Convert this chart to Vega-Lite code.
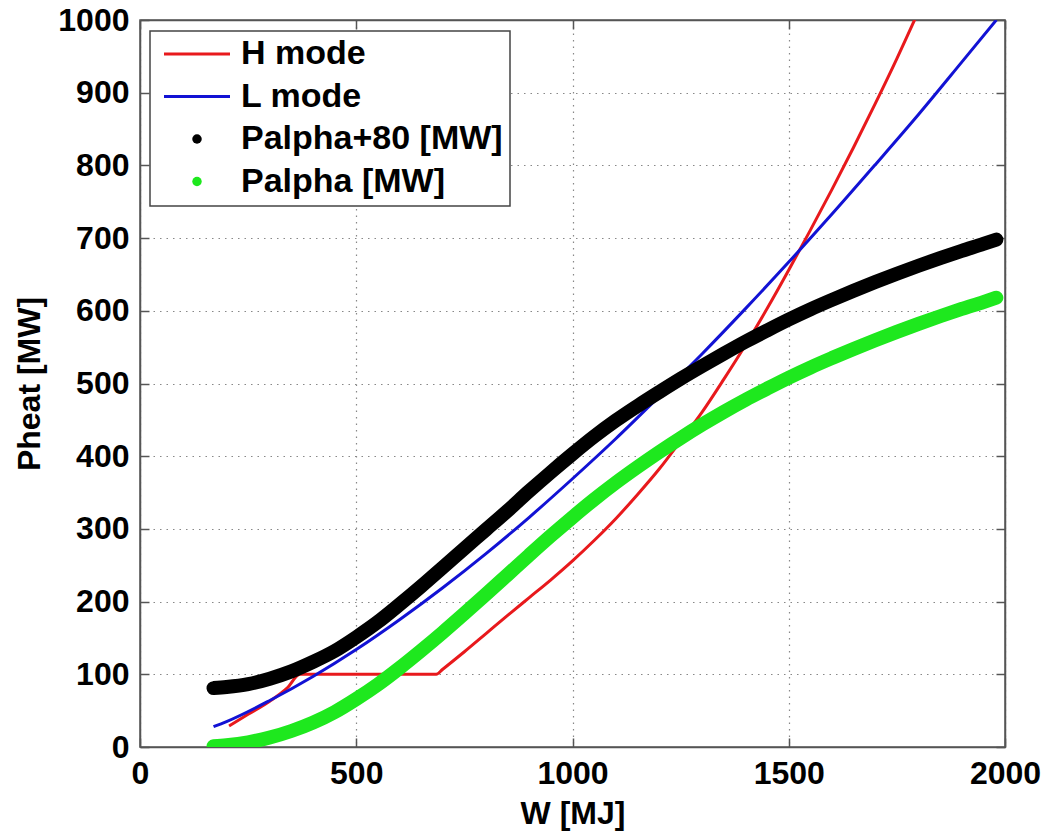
{
  "$schema": "https://vega.github.io/schema/vega-lite/v6.json",
  "width": 865,
  "height": 727,
  "autosize": {"type": "none"},
  "padding": {"left": 140, "top": 20, "right": 43, "bottom": 89},
  "background": "white",
  "config": {
    "view": {"stroke": "#555", "strokeWidth": 1.5},
    "font": "Liberation Sans",
    "axis": {
      "labelFont": "Liberation Sans",
      "labelFontSize": 32,
      "labelFontWeight": "bold",
      "labelColor": "black",
      "titleFont": "Liberation Sans",
      "titleFontSize": 32,
      "titleFontWeight": "bold",
      "titleColor": "black",
      "domainColor": "#555",
      "domainWidth": 1.5,
      "tickColor": "#555",
      "tickWidth": 1.5,
      "labelFlush": false,
      "labelOverlap": false,
      "labelBound": false,
      "format": "d"
    }
  },
  "datasets": {
    "lines": [
      {"W": 206, "P": 29, "series": "H mode"},
      {"W": 250, "P": 45, "series": "H mode"},
      {"W": 300, "P": 63, "series": "H mode"},
      {"W": 340, "P": 81, "series": "H mode"},
      {"W": 370, "P": 100, "series": "H mode"},
      {"W": 685, "P": 100, "series": "H mode"},
      {"W": 700, "P": 107, "series": "H mode"},
      {"W": 750, "P": 131, "series": "H mode"},
      {"W": 800, "P": 156, "series": "H mode"},
      {"W": 850, "P": 181, "series": "H mode"},
      {"W": 900, "P": 205.5, "series": "H mode"},
      {"W": 950, "P": 230, "series": "H mode"},
      {"W": 1000, "P": 256, "series": "H mode"},
      {"W": 1050, "P": 284, "series": "H mode"},
      {"W": 1100, "P": 314, "series": "H mode"},
      {"W": 1150, "P": 347, "series": "H mode"},
      {"W": 1200, "P": 382, "series": "H mode"},
      {"W": 1250, "P": 421, "series": "H mode"},
      {"W": 1300, "P": 461, "series": "H mode"},
      {"W": 1350, "P": 506, "series": "H mode"},
      {"W": 1400, "P": 553, "series": "H mode"},
      {"W": 1450, "P": 603, "series": "H mode"},
      {"W": 1500, "P": 656, "series": "H mode"},
      {"W": 1550, "P": 711, "series": "H mode"},
      {"W": 1600, "P": 767, "series": "H mode"},
      {"W": 1650, "P": 825, "series": "H mode"},
      {"W": 1700, "P": 885, "series": "H mode"},
      {"W": 1750, "P": 947, "series": "H mode"},
      {"W": 1800, "P": 1012, "series": "H mode"},
      {"W": 170, "P": 28, "series": "L mode"},
      {"W": 200, "P": 35, "series": "L mode"},
      {"W": 300, "P": 64, "series": "L mode"},
      {"W": 400, "P": 97, "series": "L mode"},
      {"W": 500, "P": 134, "series": "L mode"},
      {"W": 600, "P": 175, "series": "L mode"},
      {"W": 700, "P": 219, "series": "L mode"},
      {"W": 800, "P": 266, "series": "L mode"},
      {"W": 900, "P": 316, "series": "L mode"},
      {"W": 1000, "P": 369, "series": "L mode"},
      {"W": 1100, "P": 424, "series": "L mode"},
      {"W": 1200, "P": 482, "series": "L mode"},
      {"W": 1300, "P": 541, "series": "L mode"},
      {"W": 1400, "P": 603, "series": "L mode"},
      {"W": 1500, "P": 667, "series": "L mode"},
      {"W": 1600, "P": 733, "series": "L mode"},
      {"W": 1700, "P": 801, "series": "L mode"},
      {"W": 1800, "P": 870, "series": "L mode"},
      {"W": 1900, "P": 942, "series": "L mode"},
      {"W": 1980, "P": 1000, "series": "L mode"}
    ],
    "dots": [
      {"W": 170, "P": 81, "series": "Palpha+80 [MW]"},
      {"W": 200, "P": 82.5, "series": "Palpha+80 [MW]"},
      {"W": 250, "P": 86.5, "series": "Palpha+80 [MW]"},
      {"W": 300, "P": 94, "series": "Palpha+80 [MW]"},
      {"W": 350, "P": 104, "series": "Palpha+80 [MW]"},
      {"W": 400, "P": 117, "series": "Palpha+80 [MW]"},
      {"W": 450, "P": 132, "series": "Palpha+80 [MW]"},
      {"W": 500, "P": 151, "series": "Palpha+80 [MW]"},
      {"W": 550, "P": 172, "series": "Palpha+80 [MW]"},
      {"W": 600, "P": 196, "series": "Palpha+80 [MW]"},
      {"W": 650, "P": 221, "series": "Palpha+80 [MW]"},
      {"W": 700, "P": 247, "series": "Palpha+80 [MW]"},
      {"W": 750, "P": 273, "series": "Palpha+80 [MW]"},
      {"W": 800, "P": 299, "series": "Palpha+80 [MW]"},
      {"W": 850, "P": 325, "series": "Palpha+80 [MW]"},
      {"W": 900, "P": 352, "series": "Palpha+80 [MW]"},
      {"W": 950, "P": 378, "series": "Palpha+80 [MW]"},
      {"W": 1000, "P": 403, "series": "Palpha+80 [MW]"},
      {"W": 1050, "P": 427, "series": "Palpha+80 [MW]"},
      {"W": 1100, "P": 449, "series": "Palpha+80 [MW]"},
      {"W": 1150, "P": 469, "series": "Palpha+80 [MW]"},
      {"W": 1200, "P": 488, "series": "Palpha+80 [MW]"},
      {"W": 1250, "P": 506.5, "series": "Palpha+80 [MW]"},
      {"W": 1300, "P": 524, "series": "Palpha+80 [MW]"},
      {"W": 1350, "P": 541, "series": "Palpha+80 [MW]"},
      {"W": 1400, "P": 557.5, "series": "Palpha+80 [MW]"},
      {"W": 1450, "P": 573, "series": "Palpha+80 [MW]"},
      {"W": 1500, "P": 588, "series": "Palpha+80 [MW]"},
      {"W": 1550, "P": 602, "series": "Palpha+80 [MW]"},
      {"W": 1600, "P": 615, "series": "Palpha+80 [MW]"},
      {"W": 1650, "P": 627.5, "series": "Palpha+80 [MW]"},
      {"W": 1700, "P": 639.5, "series": "Palpha+80 [MW]"},
      {"W": 1750, "P": 651, "series": "Palpha+80 [MW]"},
      {"W": 1800, "P": 662, "series": "Palpha+80 [MW]"},
      {"W": 1850, "P": 672.5, "series": "Palpha+80 [MW]"},
      {"W": 1900, "P": 682.5, "series": "Palpha+80 [MW]"},
      {"W": 1950, "P": 692, "series": "Palpha+80 [MW]"},
      {"W": 1980, "P": 698, "series": "Palpha+80 [MW]"},
      {"W": 170, "P": 1, "series": "Palpha [MW]"},
      {"W": 200, "P": 2.5, "series": "Palpha [MW]"},
      {"W": 250, "P": 6.5, "series": "Palpha [MW]"},
      {"W": 300, "P": 13, "series": "Palpha [MW]"},
      {"W": 350, "P": 22, "series": "Palpha [MW]"},
      {"W": 400, "P": 33.5, "series": "Palpha [MW]"},
      {"W": 450, "P": 48, "series": "Palpha [MW]"},
      {"W": 500, "P": 66, "series": "Palpha [MW]"},
      {"W": 550, "P": 86, "series": "Palpha [MW]"},
      {"W": 600, "P": 108.5, "series": "Palpha [MW]"},
      {"W": 650, "P": 132.5, "series": "Palpha [MW]"},
      {"W": 700, "P": 157.5, "series": "Palpha [MW]"},
      {"W": 750, "P": 183.5, "series": "Palpha [MW]"},
      {"W": 800, "P": 210, "series": "Palpha [MW]"},
      {"W": 850, "P": 237, "series": "Palpha [MW]"},
      {"W": 900, "P": 264, "series": "Palpha [MW]"},
      {"W": 950, "P": 290.5, "series": "Palpha [MW]"},
      {"W": 1000, "P": 316, "series": "Palpha [MW]"},
      {"W": 1050, "P": 340.5, "series": "Palpha [MW]"},
      {"W": 1100, "P": 363.5, "series": "Palpha [MW]"},
      {"W": 1150, "P": 385, "series": "Palpha [MW]"},
      {"W": 1200, "P": 405.5, "series": "Palpha [MW]"},
      {"W": 1250, "P": 425, "series": "Palpha [MW]"},
      {"W": 1300, "P": 443.5, "series": "Palpha [MW]"},
      {"W": 1350, "P": 461, "series": "Palpha [MW]"},
      {"W": 1400, "P": 477.5, "series": "Palpha [MW]"},
      {"W": 1450, "P": 493, "series": "Palpha [MW]"},
      {"W": 1500, "P": 508, "series": "Palpha [MW]"},
      {"W": 1550, "P": 522, "series": "Palpha [MW]"},
      {"W": 1600, "P": 535, "series": "Palpha [MW]"},
      {"W": 1650, "P": 547.5, "series": "Palpha [MW]"},
      {"W": 1700, "P": 559.5, "series": "Palpha [MW]"},
      {"W": 1750, "P": 571, "series": "Palpha [MW]"},
      {"W": 1800, "P": 582, "series": "Palpha [MW]"},
      {"W": 1850, "P": 592.5, "series": "Palpha [MW]"},
      {"W": 1900, "P": 602.5, "series": "Palpha [MW]"},
      {"W": 1950, "P": 612, "series": "Palpha [MW]"},
      {"W": 1980, "P": 618, "series": "Palpha [MW]"}
    ]
  },
  "resolve": {"axis": {"x": "independent", "y": "independent"}},
  "layer": [
    {
      "data": {"name": "lines"},
      "mark": {"type": "line", "strokeWidth": 3, "interpolate": "monotone", "clip": true},
      "encoding": {
        "x": {
          "field": "W", "type": "quantitative",
          "scale": {"domain": [0, 2000], "nice": false, "zero": false},
          "axis": {
            "title": "W [MJ]", "values": [0, 500, 1000, 1500, 2000],
            "grid": true, "gridDash": [1.5, 5], "gridColor": "#888", "gridWidth": 1.2,
            "tickSize": -9, "labelPadding": 20, "titlePadding": 9
          }
        },
        "y": {
          "field": "P", "type": "quantitative",
          "scale": {"domain": [0, 1000], "nice": false, "zero": false},
          "axis": {
            "title": "Pheat [MW]", "values": [0, 100, 200, 300, 400, 500, 600, 700, 800, 900, 1000],
            "grid": true, "gridDash": [1.5, 5], "gridColor": "#888", "gridWidth": 1.2,
            "tickSize": -9, "labelPadding": 20, "titlePadding": 11
          }
        },
        "color": {
          "field": "series", "type": "nominal",
          "scale": {
            "domain": ["H mode", "L mode", "Palpha+80 [MW]", "Palpha [MW]"],
            "range": ["#e8191c", "#1212d4", "#000000", "#1ee81e"]
          },
          "legend": {
            "title": null,
            "orient": "none",
            "legendX": 10,
            "legendY": 11,
            "direction": "vertical",
            "fillColor": "white",
            "strokeColor": "#444",
            "padding": 7,
            "symbolType": "stroke",
            "symbolSize": 4356,
            "symbolStrokeWidth": 3,
            "symbolOffset": 23,
            "clipHeight": 32,
            "rowPadding": 8.5,
            "labelFont": "Liberation Sans",
            "labelFontSize": 34,
            "labelFontWeight": "bold",
            "labelColor": "black",
            "labelOffset": 27,
            "labelLimit": 500,
            "encode": {
              "legend": {
                "update": {"strokeWidth": {"value": 1.5}}
              },
              "symbols": {
                "update": {
                  "shape": {"signal": "datum.value === 'H mode' || datum.value === 'L mode' ? 'stroke' : 'circle'"},
                  "size": {"signal": "datum.value === 'H mode' || datum.value === 'L mode' ? 4356 : 90"},
                  "fill": {"signal": "scale('color', datum.value)"},
                  "strokeWidth": {"signal": "datum.value === 'H mode' || datum.value === 'L mode' ? 3 : 0"},
                  "opacity": {"value": 1}
                }
              }
            }
          }
        },
        "detail": {"field": "series"}
      }
    },
    {
      "data": {"name": "dots"},
      "mark": {"type": "line", "strokeWidth": 14, "strokeCap": "round", "strokeJoin": "round", "interpolate": "monotone", "clip": true},
      "encoding": {
        "x": {
          "field": "W", "type": "quantitative",
          "axis": {"orient": "top", "title": null, "labels": false, "grid": false, "values": [0, 500, 1000, 1500, 2000], "tickSize": -9}
        },
        "y": {
          "field": "P", "type": "quantitative",
          "axis": {"orient": "right", "title": null, "labels": false, "grid": false, "values": [0, 100, 200, 300, 400, 500, 600, 700, 800, 900, 1000], "tickSize": -9}
        },
        "color": {"field": "series", "type": "nominal"}
      }
    }
  ]
}
